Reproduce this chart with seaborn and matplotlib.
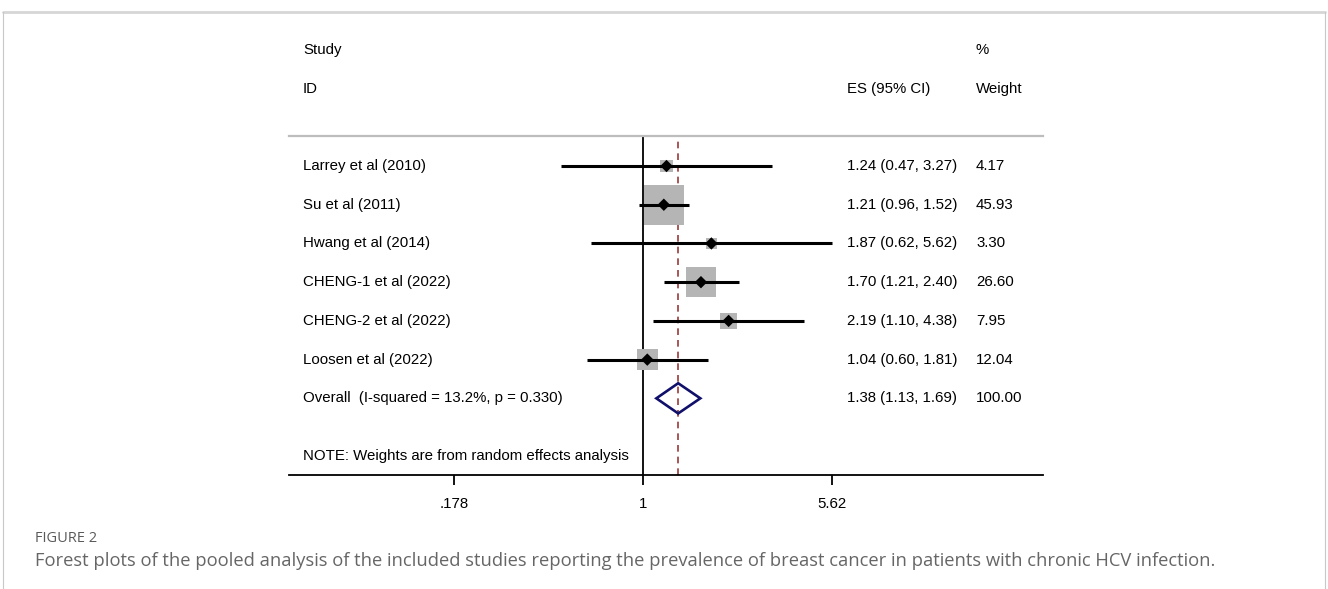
import numpy as np
import matplotlib
matplotlib.use("Agg")
import matplotlib.pyplot as plt
import matplotlib.transforms as mtransforms
from matplotlib.lines import Line2D
import seaborn as sns

# --- data ---
studies = ["Larrey et al (2010)", "Su et al (2011)", "Hwang et al (2014)",
           "CHENG-1 et al (2022)", "CHENG-2 et al (2022)", "Loosen et al (2022)"]
es = [1.24, 1.21, 1.87, 1.70, 2.19, 1.04]
ci_low = [0.47, 0.96, 0.62, 1.21, 1.10, 0.60]
ci_high = [3.27, 1.52, 5.62, 2.40, 4.38, 1.81]
weights = [4.17, 45.93, 3.30, 26.60, 7.95, 12.04]

overall_label = "Overall  (I-squared = 13.2%, p = 0.330)"
overall_es = 1.38
overall_low = 1.13
overall_high = 1.69

tick_vals = [0.178, 1, 5.62]
tick_labels = [".178", "1", "5.62"]

sns.set_style("white")
plt.rcParams['font.family'] = ['Liberation Sans', 'DejaVu Sans']
plt.rcParams['text.color'] = 'black'

fig = plt.figure(figsize=(13.28, 5.89), dpi=100)
W, H = 1328, 589
# plot region in pixels: x 289..1043, y 136..475
ax = fig.add_axes([289 / W, 1 - 475 / H, (1043 - 289) / W, (475 - 136) / H])
ax.set_xscale("log")
px_per_dec = 251.5
ax.set_xlim(10 ** ((289 - 643) / px_per_dec), 10 ** ((1043 - 643) / px_per_dec))
ax.set_ylim(7.98, -0.775)

rows = np.arange(len(studies))
ov_row = len(studies)

# null line and overall dashed line
ax.axvline(1, color="black", lw=1.3, zorder=1)
ax.axvline(overall_es, color="#9b3a3a", lw=1.2, ls=(0, (4, 3)), zorder=1)

# weight squares
sns.scatterplot(x=es, y=rows, s=[18.0 * w for w in weights], marker="s",
                color="#b5b5b5", edgecolor="none", ax=ax, zorder=2, legend=False)
# confidence intervals
ax.hlines(rows, ci_low, ci_high, color="black", lw=2.2, zorder=3)
# point estimates
sns.scatterplot(x=es, y=rows, s=40, marker="D", color="black",
                edgecolor="none", ax=ax, zorder=4, legend=False)

# overall diamond
ax.fill([overall_low, overall_es, overall_high, overall_es],
        [ov_row, ov_row - 0.39, ov_row, ov_row + 0.39],
        facecolor="none", edgecolor="#10106b", lw=1.9, zorder=4)

# axes styling
for s in ["left", "right"]:
    ax.spines[s].set_visible(False)
ax.spines["top"].set_color("#bdbdbd")
ax.spines["top"].set_linewidth(1.6)
ax.spines["bottom"].set_color("black")
ax.spines["bottom"].set_linewidth(1.3)
ax.set_yticks([])
ax.set_xticks(tick_vals)
ax.set_xticklabels(tick_labels)
ax.minorticks_off()
ax.tick_params(axis="x", bottom=True, direction="out", length=7, width=1.3,
               color="black", labelcolor="black", labelsize=10.8, pad=9)

# text columns
trans = mtransforms.blended_transform_factory(ax.transAxes, ax.transData)
fs = 10.8
col_study = (303 - 289) / 754
col_es = (847 - 289) / 754
col_w = (976 - 289) / 754
ax.text(col_study, -3, "Study", transform=trans, fontsize=fs, va="center", clip_on=False)
ax.text(col_study, -2, "ID", transform=trans, fontsize=fs, va="center", clip_on=False)
ax.text(col_es, -2, "ES (95% CI)", transform=trans, fontsize=fs, va="center", clip_on=False)
ax.text(col_w, -3, "%", transform=trans, fontsize=fs, va="center", clip_on=False)
ax.text(col_w, -2, "Weight", transform=trans, fontsize=fs, va="center", clip_on=False)

for r, name, e, lo, hi, w in zip(rows, studies, es, ci_low, ci_high, weights):
    ax.text(col_study, r, name, transform=trans, fontsize=fs, va="center")
    ax.text(col_es, r, f"{e:.2f} ({lo:.2f}, {hi:.2f})", transform=trans, fontsize=fs, va="center")
    ax.text(col_w, r, f"{w:.2f}", transform=trans, fontsize=fs, va="center")

ax.text(col_study, ov_row, overall_label, transform=trans, fontsize=fs, va="center")
ax.text(col_es, ov_row, f"{overall_es:.2f} ({overall_low:.2f}, {overall_high:.2f})",
        transform=trans, fontsize=fs, va="center")
ax.text(col_w, ov_row, "100.00", transform=trans, fontsize=fs, va="center")
ax.text(col_study, 7.5, "NOTE: Weights are from random effects analysis",
        transform=trans, fontsize=fs, va="center")

# caption
fig.text(35 / W, 1 - 538 / H, "FIGURE 2", fontsize=10.5, color="#5a5a5a",
         family=["Open Sans", "DejaVu Sans"], va="center")
fig.text(35 / W, 1 - 561 / H,
         "Forest plots of the pooled analysis of the included studies reporting the prevalence "
         "of breast cancer in patients with chronic HCV infection.",
         fontsize=13.2, color="#666666", family=["Open Sans", "DejaVu Sans"], va="center")

# page frame
fig.add_artist(Line2D([3 / W, 1325 / W], [1 - 12 / H, 1 - 12 / H], color="#d6d6d6", lw=2.0))
fig.add_artist(Line2D([3 / W, 3 / W], [0, 1 - 12 / H], color="#c8c8c8", lw=0.8))
fig.add_artist(Line2D([1325 / W, 1325 / W], [0, 1 - 12 / H], color="#c8c8c8", lw=0.8))

fig.savefig("out.png", dpi=100)
